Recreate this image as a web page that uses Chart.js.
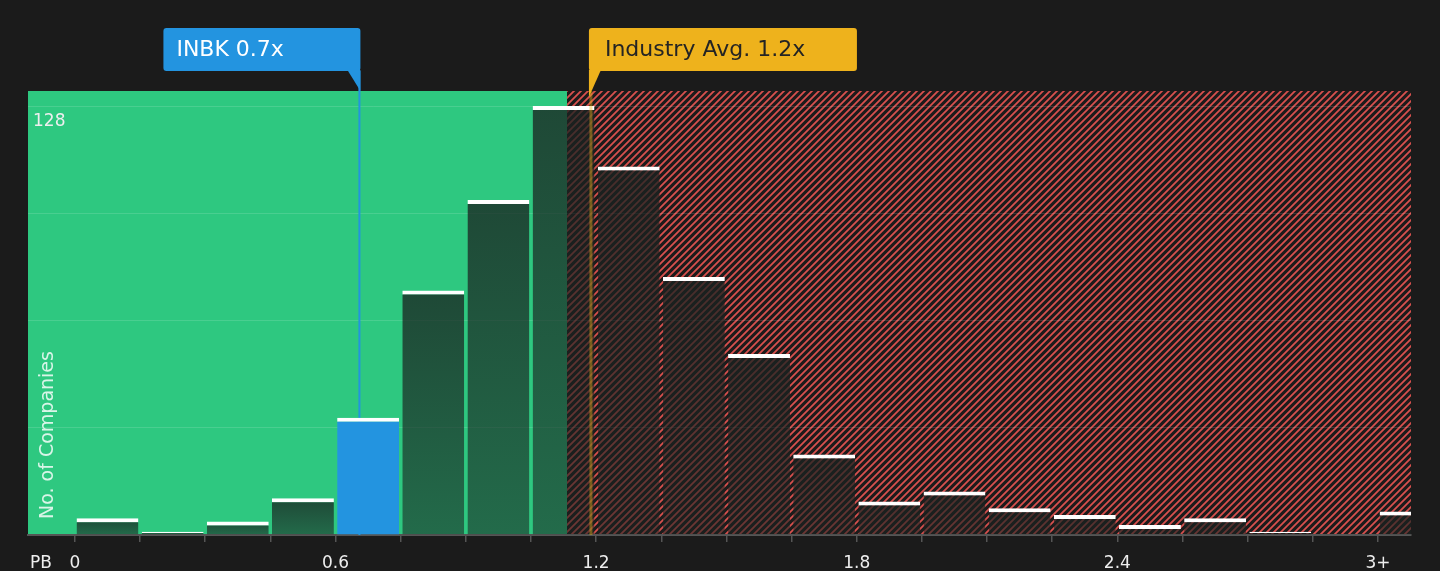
<!DOCTYPE html>
<html>
<head>
<meta charset="utf-8">
<script src="https://cdn.jsdelivr.net/npm/chart.js@4.4.0/dist/chart.umd.min.js"></script>
<style>
  html, body { margin: 0; padding: 0; background: #1b1b1b; }
  canvas { display: block; }
</style>
</head>
<body>
<canvas id="pbChart" width="1440" height="571"></canvas>
<script>
// PB histogram, bins are 0.15 wide, last one is "3+"
const binStarts = [0, 0.15, 0.3, 0.45, 0.6, 0.75, 0.9, 1.05, 1.2, 1.35, 1.5, 1.65, 1.8, 1.95, 2.1, 2.25, 2.4, 2.55, 2.7, 2.85, 3.0];
const binCounts = [5, 1, 4, 11, 35, 73, 100, 128, 110, 77, 54, 24, 10, 13, 8, 6, 3, 5, 1, 0, 7];
const binWidth = 0.15;

const xTickValues = [0, 0.6, 1.2, 1.8, 2.4, 3.0];
const xTickLabels = ["0", "0.6", "1.2", "1.8", "2.4", "3+"];
const yTickValues = [0, 32, 64, 96, 128];
const yTickShown = [128];

const inbkPB = 0.655;      // shown as 0.7x
const industryPB = 1.188;  // shown as 1.2x
const fairLimit = 1.133;   // end of the green zone
const inbkBin = 4;

const inbkLabel = "INBK 0.7x";
const industryLabel = "Industry Avg. 1.2x";

Chart.defaults.font.family = "'DejaVu Sans', sans-serif";

function makeHatch(ctx) {
    const s = 7;
    const c = document.createElement("canvas");
    c.width = s;
    c.height = s;
    const p = c.getContext("2d");
    p.fillStyle = "#1c1b1b";
    p.fillRect(0, 0, s, s);
    p.strokeStyle = "#d8504e";
    p.lineWidth = 1.8;
    p.beginPath();
    p.moveTo(0, s); p.lineTo(s, 0);
    p.moveTo(-1, 1); p.lineTo(1, -1);
    p.moveTo(s - 1, s + 1); p.lineTo(s + 1, s - 1);
    p.stroke();
    return ctx.createPattern(c, "repeat");
}

function barFill(c) {
    if (c.type !== "data") return "rgba(26,34,32,0.75)";
    if (c.dataIndex === inbkBin) return "#2394e0";
    const chart = c.chart;
    const y = chart.scales.y;
    if (!chart.chartArea || !y) return "rgba(26,34,32,0.75)";
    const top = y.getPixelForValue(binCounts[c.dataIndex]);
    const base = y.getPixelForValue(0);
    if (base - top < 1) return "rgba(26,34,32,0.75)";
    const g = chart.ctx.createLinearGradient(0, top, 0, base);
    g.addColorStop(0, "rgba(26,34,32,0.77)");
    g.addColorStop(1, "rgba(26,34,32,0.56)");
    return g;
}

function callout(ctx, x0, x1, fill, text, color, pad, tail) {
    ctx.fillStyle = fill;
    ctx.beginPath();
    if (ctx.roundRect) ctx.roundRect(x0, 28, x1 - x0, 43, 3);
    else ctx.rect(x0, 28, x1 - x0, 43);
    ctx.fill();
    ctx.beginPath();
    ctx.moveTo(tail[0][0], tail[0][1]);
    ctx.lineTo(tail[1][0], tail[1][1]);
    ctx.lineTo(tail[2][0], tail[2][1]);
    ctx.closePath();
    ctx.fill();
    ctx.fillStyle = color;
    ctx.font = "22px 'DejaVu Sans'";
    ctx.textAlign = "left";
    ctx.textBaseline = "middle";
    ctx.fillText(text, x0 + pad, 50);
}

let hatch = null;

const zonesPlugin = {
    id: "zones",
    beforeDraw(chart) {
        const { ctx, chartArea: a, scales: { x } } = chart;
        if (!hatch) hatch = makeHatch(ctx);
        const split = x.getPixelForValue(fairLimit);
        ctx.save();
        ctx.fillStyle = "#1b1b1b";
        ctx.fillRect(0, 0, chart.width, chart.height);
        ctx.fillStyle = "#2ec880";
        ctx.fillRect(a.left, a.top, split - a.left, a.bottom - a.top);
        ctx.fillStyle = hatch;
        ctx.fillRect(split, a.top, a.right - split, a.bottom - a.top);
        ctx.restore();
    },
    beforeDatasetsDraw(chart) {
        const { ctx, chartArea: a, scales: { x } } = chart;
        const ix = x.getPixelForValue(inbkPB);
        ctx.save();
        ctx.strokeStyle = "#2394e0";
        ctx.lineWidth = 2;
        ctx.beginPath();
        ctx.moveTo(ix, 71);
        ctx.lineTo(ix, a.bottom);
        ctx.stroke();

        // axis titles
        ctx.fillStyle = "rgba(255,255,255,0.82)";
        ctx.font = "19px 'DejaVu Sans'";
        ctx.textBaseline = "middle";
        ctx.textAlign = "left";
        ctx.translate(48, 519);
        ctx.rotate(-Math.PI / 2);
        ctx.fillText("No. of Companies", 0, 0);
        ctx.restore();

        ctx.save();
        ctx.fillStyle = "#eeeeee";
        ctx.font = "17px 'DejaVu Sans'";
        ctx.textAlign = "left";
        ctx.textBaseline = "middle";
        ctx.fillText("PB", 30, 564);
        ctx.restore();
    },
    afterDatasetsDraw(chart) {
        const { ctx, chartArea: a, scales: { x } } = chart;
        const ax = x.getPixelForValue(industryPB);
        const ix = x.getPixelForValue(inbkPB);
        ctx.save();
        ctx.strokeStyle = "rgba(238,178,28,0.42)";
        ctx.lineWidth = 3;
        ctx.beginPath();
        ctx.moveTo(ax, a.top);
        ctx.lineTo(ax, a.bottom);
        ctx.stroke();

        callout(ctx, ix - 196, ix + 1, "#2394e0", inbkLabel, "#ffffff", 13,
            [[ix - 12, 70], [ix + 1, 70], [ix + 1, 91]]);
        callout(ctx, ax - 2, ax + 266, "#eeb21c", industryLabel, "#242424", 16,
            [[ax - 2, 70], [ax + 10, 70], [ax - 2, 97]]);
        ctx.restore();
    }
};

const ctx = document.getElementById("pbChart").getContext("2d");

const chart = new Chart(ctx, {
    type: "bar",
    data: {
        datasets: [
            {
                data: binStarts.map((s, i) => ({ x: s + binWidth / 2, y: binCounts[i] })),
                backgroundColor: barFill,
                borderColor: "#ffffff",
                borderWidth: { top: 4, right: 0, bottom: 0, left: 0 },
                borderSkipped: "start",
                barPercentage: 0.95,
                categoryPercentage: 1.0,
            },
        ],
    },
    options: {
        responsive: false,
        animation: false,
        layout: { padding: { left: 28, right: 29, top: 91, bottom: 0 } },
        plugins: { legend: { display: false }, tooltip: { enabled: false } },
        scales: {
            x: {
                type: "linear",
                min: -0.108,
                max: 3.076,
                offset: false,
                afterFit(s) { s.height = 36; },
                afterBuildTicks(s) { s.ticks = binStarts.map((v) => ({ value: v })); },
                grid: { offset: false, drawOnChartArea: false, color: "#555555", tickLength: 7, lineWidth: 1.5 },
                border: { color: "#555555", width: 2 },
                ticks: {
                    autoSkip: false,
                    maxRotation: 0,
                    padding: 11,
                    color: "#eeeeee",
                    font: { size: 17 },
                    callback(value) {
                        const i = xTickValues.findIndex((t) => Math.abs(t - value) < 1e-6);
                        return i >= 0 ? xTickLabels[i] : "";
                    },
                },
            },
            y: {
                min: 0,
                max: 132.5,
                afterFit(s) { s.width = 0; },
                afterBuildTicks(s) { s.ticks = yTickValues.map((v) => ({ value: v })); },
                grid: { color: "rgba(255,255,255,0.13)", drawTicks: false, lineWidth: 1 },
                border: { display: false },
                ticks: {
                    mirror: true,
                    padding: 5,
                    labelOffset: 15,
                    color: "#eeeeee",
                    font: { size: 17 },
                    callback(value) {
                        return yTickShown.includes(value) ? String(value) : "";
                    },
                },
            },
        },
    },
    plugins: [zonesPlugin],
});
</script>
</body>
</html>
